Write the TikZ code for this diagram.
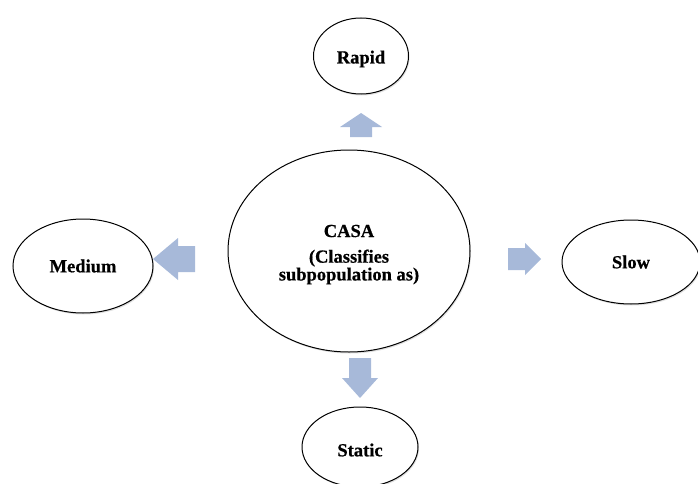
\documentclass[tikz,border=0pt]{standalone}
\usepackage{fontspec}
\setmainfont{Liberation Serif}[BoldFeatures={FakeBold=0.6}]
\usetikzlibrary{shadows}
\definecolor{arrowblue}{HTML}{A7B9D9}
\tikzset{
  x=1pt,y=1pt,
  oval/.style={draw=black,line width=1pt,fill=white,
    drop shadow={opacity=0.25,shadow xshift=1pt,shadow yshift=-1.5pt}},
  lbl/.style={font=\fontsize{18.5}{16.5}\selectfont\bfseries,align=center,inner sep=0pt},
  blockarrow/.style={fill=arrowblue,draw=none}
}
\begin{document}
\begin{tikzpicture}
\useasboundingbox (0,0) rectangle (698,483);
% ovals
\draw[oval] (361,427) ellipse [x radius=47.5,y radius=38];
\draw[oval] (349,232) ellipse [x radius=121,y radius=101];
\draw[oval] (83,217) ellipse [x radius=70,y radius=47];
\draw[oval] (631,221) ellipse [x radius=69,y radius=42];
\draw[oval] (360,36) ellipse [x radius=58,y radius=40];
% labels
\node[lbl] (rapid) at (361,424) {Rapid};
\node[lbl] (casa) at (349,252) {CASA};
\node[lbl] (casa2) at (349,216) {(Classifies\\subpopulation as)};
\node[lbl] (medium) at (83,217) {Medium};
\node[lbl] (slow) at (631,221) {Slow};
\node[lbl] (static) at (360,33) {Static};
% block arrows
% up (Rapid)
\fill[blockarrow] (350,346) -- (372,346) -- (372,356) -- (382,356) -- (361,370) -- (340,356) -- (350,356) -- cycle;
% left (Medium)
\fill[blockarrow] (195,211) -- (178,211) -- (178,203) -- (153,224) -- (178,245) -- (178,237) -- (195,237) -- cycle;
% right (Slow)
\fill[blockarrow] (508,213) -- (525,213) -- (525,208) -- (541,224) -- (525,240) -- (525,235) -- (508,235) -- cycle;
% down (Static)
\fill[blockarrow] (349,125) -- (371,125) -- (371,105) -- (378,105) -- (360,85) -- (342,105) -- (349,105) -- cycle;
\end{tikzpicture}
\end{document}
